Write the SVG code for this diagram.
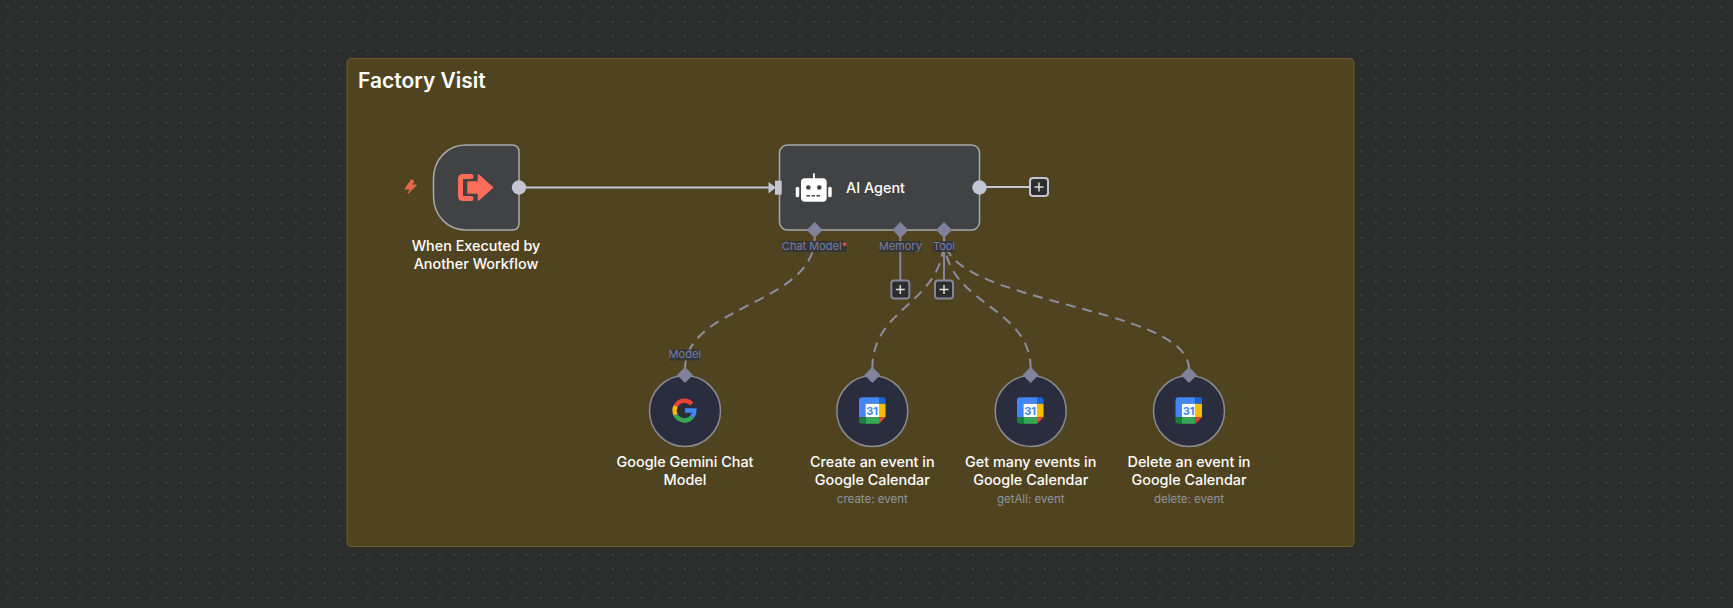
<svg xmlns="http://www.w3.org/2000/svg" width="1733" height="608" viewBox="0 0 1733 608">
<style>
text{font-family:Inter,"Liberation Sans",sans-serif}
.t{font-size:14.4px;font-weight:500;fill:#fff;text-anchor:middle}
.s{font-size:11.5px;fill:#92939b;text-anchor:middle}
.l{font-size:11px;fill:#7a7da2;text-anchor:middle}
.lb{fill:#33353a;opacity:.9}
.n{fill:#414244;stroke:#a8a8aa;stroke-width:1.5}
.c{fill:#2a2d3d;stroke:#8a8a90;stroke-width:1.5}
.d{fill:#81829c;stroke:#81829c;stroke-width:1;stroke-linejoin:round}
.w{fill:none;stroke:#85869c;stroke-width:2}
.da{fill:none;stroke:#8d8e9f;stroke-width:2;stroke-dasharray:10 7}
.g{fill:none;stroke:#c3c6d2;stroke-width:2}
.p{fill:#2c2e2e;stroke-width:2}
.pl{stroke:#dcdcdc;stroke-width:1.5}
</style>
<defs>
<pattern id="dots" width="14.4" height="14.4" patternUnits="userSpaceOnUse" x="0.5" y="0">
<rect x="7" y="7" width="1" height="1" fill="#7c7d7e"/>
</pattern>
<g id="cal">
<path d="M3 0H20V6.500H6.500V20H0V3Q0 0 3 0Z" fill="#4285f4"/>
<path d="M20 0H23.500Q26.500 0 26.500 3V6.500H20Z" fill="#1967d2"/>
<rect x="20" y="6.500" width="6.500" height="13.500" fill="#fbbc04"/>
<rect x="6.500" y="6.500" width="13.500" height="13.500" fill="#fff"/>
<path d="M6.500 20H20V26.500H6.500Z" fill="#34a853"/>
<path d="M0 20H6.500V26.500H3Q0 26.500 0 23.500Z" fill="#188038"/>
<path d="M20 20H26.500L20 26.500Z" fill="#ea4335"/>
<text x="13.200" y="17.500" text-anchor="middle" font-size="11" font-weight="700" fill="#4285f4">31</text>
</g>
</defs>
<rect width="1733" height="608" fill="#2c2e2e"/>
<rect width="1733" height="608" fill="url(#dots)"/>
<g id="group-factory-visit">
<rect x="347" y="58.500" width="1007" height="488" rx="4" fill="#504420" stroke="#6b5b25" stroke-width="1"/>
<text x="358" y="88" font-size="21" font-weight="600" fill="#fff">Factory Visit</text>
</g>
<g id="connectors">
<path class="g" d="M519 187.500H772"/>
<path class="g" d="M979 187H1030"/>
<path class="w" d="M900.300 230V280"/>
<path class="w" d="M944 230V280"/>
<path class="da" d="M685 369C685 305 814.700 305 814.700 237"/>
<path class="da" d="M872.300 369C872.300 305 944 305 944 237"/>
<path class="da" d="M1030.700 369C1030.700 305 944 305 944 237"/>
<path class="da" d="M1189 369C1189 305 944 305 944 237"/>
<path fill="#c3c6d2" d="M768.500 182 776 187.500 768.500 193.300Z"/>
</g>
<g id="node-trigger">
<path class="n" d="M466 145H512Q519 145 519 152V223Q519 230 512 230H466C447 230 433.500 215 433.500 196V179C433.500 160 447 145 466 145Z"/>
<circle cx="519" cy="187.500" r="7.200" fill="#c3c6d2"/>
<path d="M411.500 179.500 405 189H410.500L408 193.500 416.500 185H411.500L414 181.500Z" fill="#e9654f" stroke="#e9654f" stroke-width="1" stroke-linejoin="round"/>
<path d="M471 176.500H463Q460.500 176.500 460.500 179V195.500Q460.500 198.500 463 198.500H471" fill="none" stroke="#ff6d5a" stroke-width="5" stroke-linecap="round"/>
<path d="M468 182H478.500V175L492.500 187.500 478.500 200V193H468Z" fill="#ff6d5a" stroke="#ff6d5a" stroke-width="1.500" stroke-linejoin="round"/>
<text class="t"><tspan x="476" y="251">When Executed by</tspan><tspan x="476" y="269">Another Workflow</tspan></text>
</g>
<g id="node-ai-agent">
<rect class="n" x="779.500" y="145" width="200" height="85" rx="8"/>
<rect x="775" y="180.700" width="6.700" height="14" fill="#c3c6d2"/>
<circle cx="979.500" cy="187.500" r="7.200" fill="#c3c6d2"/>
<path class="d" d="M814.700 222.500 822.200 230 814.700 237.500 807.200 230Z"/>
<path class="d" d="M900.300 222.500 907.800 230 900.300 237.500 892.800 230Z"/>
<path class="d" d="M944 222.500 951.500 230 944 237.500 936.500 230Z"/>
<g fill="#fff">
<rect x="801" y="178.300" width="25.700" height="23.400" rx="4"/>
<rect x="813" y="173.300" width="1.800" height="6"/>
<rect x="795.700" y="186.700" width="3.500" height="10.600" rx="1.500"/>
<rect x="828.200" y="186.700" width="3.500" height="10.600" rx="1.500"/>
</g>
<circle cx="808.300" cy="187.500" r="2.300" fill="#414244"/>
<circle cx="819.300" cy="187.500" r="2.300" fill="#414244"/>
<path d="M806.500 195.700H821" stroke="#414244" stroke-width="1.600" stroke-dasharray="3.500 1.500"/>
<text x="846" y="193" font-size="14.400" font-weight="500" fill="#fff">AI Agent</text>
<rect class="lb" x="782.700" y="241" width="64" height="11"/>
<text class="l" x="814.500" y="250">Chat Model<tspan fill="#f45a5a">*</tspan></text>
<rect class="lb" x="879" y="241" width="42" height="11"/>
<text class="l" x="900.300" y="250">Memory</text>
<rect class="lb" x="933" y="241" width="22" height="11"/>
<text class="l" x="944" y="250">Tool</text>
</g>
<g id="add-main">
<rect class="p" stroke="#c3c6d2" x="1030" y="178" width="18" height="18" rx="3"/>
<path class="pl" d="M1034.500 187H1043.500M1039 182.500V191.500"/>
</g>
<g id="add-memory">
<rect class="p" stroke="#85869c" x="891.300" y="280.500" width="18" height="18" rx="3"/>
<path class="pl" d="M895.800 289.500H904.800M900.300 285V294"/>
</g>
<g id="add-tool">
<rect class="p" stroke="#85869c" x="935" y="280.500" width="18" height="18" rx="3"/>
<path class="pl" d="M939.500 289.500H948.500M944 285V294"/>
</g>
<g id="node-gemini">
<circle class="c" cx="685" cy="411" r="35.500"/>
<path class="d" d="M685 367.500 692.500 375 685 382.500 677.500 375Z"/>
<rect class="lb" x="669.300" y="349.500" width="31" height="11"/>
<text class="l" x="684.800" y="358">Model</text>
<g fill="none" stroke-width="4.400">
<path d="M691.800 403.900A9.900 9.900 0 0 0 675.700 406" stroke="#ea4335"/>
<path d="M675.700 406A9.900 9.900 0 0 0 675.700 415" stroke="#fbbc05"/>
<path d="M675.700 415A9.900 9.900 0 0 0 692 417" stroke="#34a853"/>
<path d="M692 417A9.900 9.900 0 0 0 694.400 410.500H685" stroke="#4285f4"/>
</g>
<text class="t"><tspan x="685" y="467">Google Gemini Chat</tspan><tspan x="685" y="485">Model</tspan></text>
</g>
<g id="node-create">
<circle class="c" cx="872.300" cy="411" r="35.500"/>
<path class="d" d="M872.300 367.500 879.800 375 872.300 382.500 864.800 375Z"/>
<use href="#cal" x="859" y="397.300"/>
<text class="t"><tspan x="872.300" y="467">Create an event in</tspan><tspan x="872.300" y="485">Google Calendar</tspan></text>
<text class="s" x="872.300" y="503">create: event</text>
</g>
<g id="node-get">
<circle class="c" cx="1030.700" cy="411" r="35.500"/>
<path class="d" d="M1030.700 367.500 1038.200 375 1030.700 382.500 1023.200 375Z"/>
<use href="#cal" x="1017" y="397.300"/>
<text class="t"><tspan x="1030.700" y="467">Get many events in</tspan><tspan x="1030.700" y="485">Google Calendar</tspan></text>
<text class="s" x="1030.700" y="503">getAll: event</text>
</g>
<g id="node-delete">
<circle class="c" cx="1189" cy="411" r="35.500"/>
<path class="d" d="M1189 367.500 1196.500 375 1189 382.500 1181.500 375Z"/>
<use href="#cal" x="1175.500" y="397.300"/>
<text class="t"><tspan x="1189" y="467">Delete an event in</tspan><tspan x="1189" y="485">Google Calendar</tspan></text>
<text class="s" x="1189" y="503">delete: event</text>
</g>
</svg>
